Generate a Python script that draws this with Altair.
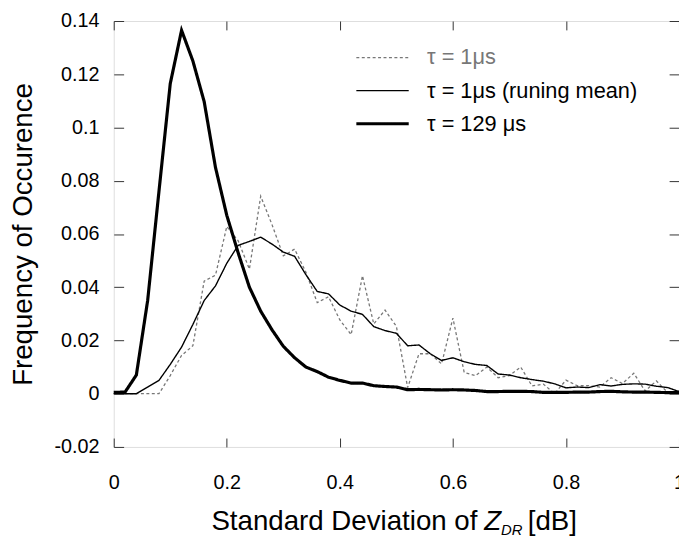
import altair as alt
import pandas as pd

# ---------------- data ----------------
x_bins = [0.00, 0.02, 0.04, 0.06, 0.08, 0.10, 0.12, 0.14, 0.16, 0.18,
          0.20, 0.22, 0.24, 0.26, 0.28, 0.30, 0.32, 0.34, 0.36, 0.38,
          0.40, 0.42, 0.44, 0.46, 0.48, 0.50, 0.52, 0.54, 0.56, 0.58,
          0.60, 0.62, 0.64, 0.66, 0.68, 0.70, 0.72, 0.74, 0.76, 0.78,
          0.80, 0.82, 0.84, 0.86, 0.88, 0.90, 0.92, 0.94, 0.96, 0.98, 1.00]

tau_1us = [0.0, 0.0, 0.0, 0.0, 0.0, 0.0068, 0.0144, 0.018, 0.0423, 0.0445,
           0.0628, 0.0575, 0.0468, 0.0742, 0.0635, 0.0518, 0.0543, 0.0456, 0.0342, 0.0364,
           0.0277, 0.0222, 0.0443, 0.0262, 0.0314, 0.0253, 0.0023, 0.015, 0.015, 0.0112,
           0.0284, 0.008, 0.0068, 0.010, 0.006, 0.0068, 0.010, 0.0029, 0.0036, 0.0,
           0.0051, 0.003, 0.003, 0.0025, 0.006, 0.0038, 0.0077, 0.001, 0.0048, 0.0004, 0.001]

tau_1us_mean = [0.0, 0.0, 0.0, 0.0025, 0.005, 0.011, 0.0175, 0.026, 0.035, 0.0405,
                0.049, 0.0557, 0.0572, 0.0588, 0.0562, 0.0532, 0.0516, 0.0447, 0.0384, 0.0375,
                0.0333, 0.031, 0.0298, 0.0252, 0.0237, 0.0227, 0.018, 0.0183, 0.015, 0.0125,
                0.0135, 0.012, 0.011, 0.0106, 0.0074, 0.007, 0.006, 0.0053, 0.0047, 0.0037,
                0.0022, 0.0025, 0.0023, 0.0034, 0.0029, 0.0035, 0.0037, 0.0036, 0.0028, 0.0023, 0.0008]

tau_129us = [0.0005, 0.0006, 0.007, 0.035, 0.076, 0.1165, 0.1365, 0.125, 0.1097, 0.085,
             0.067, 0.053, 0.040, 0.031, 0.024, 0.0178, 0.0135, 0.010, 0.0083, 0.0062,
             0.005, 0.004, 0.004, 0.003, 0.0027, 0.0025, 0.0015, 0.0016, 0.0015, 0.0014,
             0.0015, 0.0014, 0.0012, 0.0008, 0.0008, 0.0009, 0.0009, 0.0008, 0.0005, 0.0005,
             0.0005, 0.0006, 0.0006, 0.0008, 0.0009, 0.0007, 0.0006, 0.0006, 0.0005, 0.0004, 0.0004]

series_names = ["τ  = 1μs", "τ  = 1μs (runing mean)", "τ  = 129 μs"]
x_tick_values = [0, 0.2, 0.4, 0.6, 0.8, 1]
y_tick_values = [-0.02, 0, 0.02, 0.04, 0.06, 0.08, 0.1, 0.12, 0.14]

rows = []
for name, vals in zip(series_names, [tau_1us, tau_1us_mean, tau_129us]):
    for xv, yv in zip(x_bins, vals):
        rows.append({"x": xv, "y": yv, "series": name})
df = pd.DataFrame(rows)

# ---------------- style ----------------
W, H = 572, 431
FONT = "Liberation Sans"
FRAME = "#333333"

x_scale = alt.Scale(domain=[0, 1], nice=False, zero=False)
y_scale = alt.Scale(domain=[-0.02, 0.14], nice=False, zero=False)

legend = alt.Legend(
    title=None, orient="none", legendX=261, legendY=26, padding=0,
    symbolType="M-5.3,0H5.3", symbolSize=100, labelFontSize=22, labelFont=FONT,
    labelColor=alt.expr("datum.label == '" + series_names[0] + "' ? '#777777' : '#000000'"),
    labelOffset=34, rowPadding=11.5, labelLimit=400,
)

lines = alt.Chart(df).mark_line().encode(
    x=alt.X("x:Q", scale=x_scale,
            axis=alt.Axis(orient="bottom", values=x_tick_values, labelExpr="'' + datum.value",
                          ticks=False, tickSize=0, domain=False, grid=False, title=None,
                          labelPadding=26, labelFontSize=20, labelFont=FONT, labelColor="#000000",
                          labelFlush=False)),
    y=alt.Y("y:Q", scale=y_scale,
            axis=alt.Axis(orient="left", values=y_tick_values, labelExpr="'' + datum.value",
                          ticks=False, tickSize=0, domain=False, grid=False,
                          title="Frequency of Occurence", titleFont=FONT, titleFontSize=28,
                          titleFontWeight="normal", titleColor="#000000", titleX=-77, titleY=H / 2,
                          labelPadding=15, labelFontSize=20, labelFont=FONT, labelColor="#000000",
                          labelFlush=False)),
    color=alt.Color("series:N", scale=alt.Scale(domain=series_names, range=["#777777", "#000000", "#000000"]),
                    legend=legend),
    strokeDash=alt.StrokeDash("series:N", scale=alt.Scale(domain=series_names, range=[[3, 2.5], [1, 0], [1, 0]]),
                              legend=legend),
    strokeWidth=alt.StrokeWidth("series:N",
                                scale=alt.Scale(type="ordinal", domain=series_names, range=[1.3, 1.4, 3.2]),
                                legend=legend),
)

# inward ticks (bottom + left)
ticks_bl = alt.Chart(df).mark_point(opacity=0).encode(
    x=alt.X("x:Q", scale=x_scale,
            axis=alt.Axis(orient="bottom", offset=-9, tickSize=9, values=x_tick_values, labels=False,
                          domain=False, grid=False, title=None, tickColor=FRAME, tickWidth=1)),
    y=alt.Y("y:Q", scale=y_scale,
            axis=alt.Axis(orient="left", offset=-10, tickSize=10, values=y_tick_values, labels=False,
                          domain=False, grid=False, title=None, tickColor=FRAME, tickWidth=1)),
)
# inward ticks (top + right)
ticks_tr = alt.Chart(df).mark_point(opacity=0).encode(
    x=alt.X("x:Q", scale=x_scale,
            axis=alt.Axis(orient="top", offset=-9, tickSize=9, values=x_tick_values, labels=False,
                          domain=False, grid=False, title=None, tickColor=FRAME, tickWidth=1)),
    y=alt.Y("y:Q", scale=y_scale,
            axis=alt.Axis(orient="right", offset=-10, tickSize=10, values=y_tick_values, labels=False,
                          domain=False, grid=False, title=None, tickColor=FRAME, tickWidth=1)),
)

# x-axis title with italic Z and subscript DR
one = alt.Data(values=[{}])
t_main = alt.Chart(one).mark_text(text="Standard Deviation of", align="right", baseline="alphabetic",
                                  font=FONT, fontSize=28, color="#000000").encode(
    x=alt.value(368), y=alt.value(H + 84))
t_z = alt.Chart(one).mark_text(text="Z", align="left", baseline="alphabetic", font=FONT, fontSize=28,
                               fontStyle="italic", color="#000000").encode(
    x=alt.value(375), y=alt.value(H + 84))
t_dr = alt.Chart(one).mark_text(text="DR", align="left", baseline="alphabetic", font=FONT, fontSize=15,
                                fontStyle="italic", color="#000000").encode(
    x=alt.value(392), y=alt.value(H + 89))
t_db = alt.Chart(one).mark_text(text="[dB]", align="left", baseline="alphabetic", font=FONT, fontSize=28,
                                color="#000000").encode(
    x=alt.value(419), y=alt.value(H + 84))

chart = alt.layer(lines, ticks_bl, ticks_tr, t_main, t_z, t_dr, t_db).resolve_axis(
    x="independent", y="independent"
).properties(
    width=W, height=H,
    padding={"left": 107, "top": 10, "right": 0, "bottom": 90},
    autosize=alt.AutoSizeParams(type="none"),
).configure_view(
    stroke=FRAME, strokeWidth=1
).configure(background="white")

chart.save("out.html", embed_options={"renderer": "svg", "actions": False})
